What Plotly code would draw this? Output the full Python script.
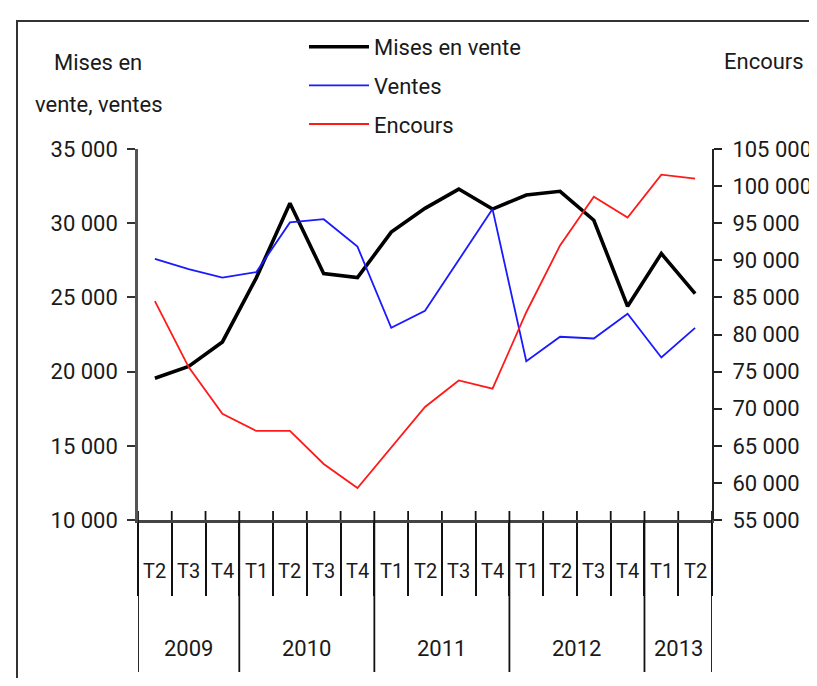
import plotly.graph_objects as go

# ---- data ----
years = ["2009"] * 3 + ["2010"] * 4 + ["2011"] * 4 + ["2012"] * 4 + ["2013"] * 2
quarters = ["T2", "T3", "T4", "T1", "T2", "T3", "T4", "T1", "T2", "T3", "T4",
            "T1", "T2", "T3", "T4", "T1", "T2"]
mises_en_vente = [19550, 20350, 22000, 26300, 31350, 26600, 26330, 29400, 31000,
                  32300, 30950, 31900, 32150, 30200, 24400, 27950, 25250]
ventes = [27600, 26900, 26330, 26700, 30050, 30270, 28420, 22950, 24100,
          27500, 30950, 20700, 22350, 22230, 23900, 20950, 22950]
encours = [84500, 75600, 69300, 67000, 67000, 62550, 59300, 64700, 70230,
           73800, 72700, 83000, 92000, 98560, 95750, 101550, 101000]
left_ticks = [10000, 15000, 20000, 25000, 30000, 35000]
right_ticks = [55000, 60000, 65000, 70000, 75000, 80000, 85000, 90000, 95000, 100000, 105000]


def fmt(v):
    return f"{v:,}".replace(",", " ")


cats = [f"{q} {y}" for q, y in zip(quarters, years)]

# ---- geometry (page pixels; the page body adds an 8px offset) ----
OFF = 8
W, H = 817 - OFF, 686 - 2 * OFF
L, R, T, B = 138 - OFF, 712 - OFF, 149 - OFF, 520 - OFF


def pxx(x):  # page x -> paper
    return (x - OFF - L) / (R - L)


def pxy(y):  # page y -> paper
    return (B - (y - OFF)) / (B - T)


FONT = "Roboto, 'Liberation Sans', sans-serif"
TXT = "#1a1a1a"
FS = 22

fig = go.Figure()
fig.add_trace(go.Scatter(x=cats, y=mises_en_vente, name="Mises en vente", mode="lines",
                         line=dict(color="#000000", width=3.6), legendgroup="a"))
fig.add_trace(go.Scatter(x=cats, y=ventes, name="Ventes", mode="lines",
                         line=dict(color="#1a1aff", width=1.8), legendgroup="b"))
fig.add_trace(go.Scatter(x=cats, y=encours, name="Encours", mode="lines", yaxis="y2",
                         line=dict(color="#ff1a1a", width=1.8), legendgroup="c"))

axis_common = dict(showgrid=False, zeroline=False, automargin=False,
                   tickfont=dict(family=FONT, size=22, color=TXT))

fig.update_layout(
    width=W, height=H,
    margin=dict(l=L, r=W - R, t=T, b=H - B, autoexpand=False),
    paper_bgcolor="white", plot_bgcolor="white",
    font=dict(family=FONT, size=FS, color=TXT),
    showlegend=True,
    legend=dict(x=pxx(296 + OFF), y=pxy(18 + OFF), xanchor="left", yanchor="top",
                bgcolor="rgba(0,0,0,0)", itemwidth=60, traceorder="grouped",
                tracegroupgap=7, font=dict(family=FONT, size=FS, color=TXT)),
    xaxis=dict(type="category", categoryarray=cats, categoryorder="array",
               range=[-0.5, len(cats) - 0.5], showgrid=False, zeroline=False,
               automargin=False, showline=True, linecolor="#444444", linewidth=2.5,
               ticks="outside", tickson="boundaries", ticklen=73, tickwidth=1.8,
               tickcolor="#111111", showticklabels=False),
    yaxis=dict(range=[left_ticks[0], left_ticks[-1]], tickvals=left_ticks,
               ticktext=[fmt(v) for v in left_ticks], showline=True,
               linecolor="#555555", linewidth=2.5, ticks="outside", ticklen=8,
               tickwidth=2, tickcolor="#333333", ticklabelstandoff=5, **axis_common),
    yaxis2=dict(range=[right_ticks[0], right_ticks[-1]], tickvals=right_ticks,
                ticktext=[fmt(v) for v in right_ticks], overlaying="y", side="right",
                anchor="x", showline=True, linecolor="#222222", linewidth=2,
                ticks="outside", ticklen=8, tickwidth=2, tickcolor="#222222",
                ticklabelstandoff=6, **axis_common),
    yaxis3=dict(range=[left_ticks[0], left_ticks[-1]], tickvals=left_ticks,
                overlaying="y", side="left", anchor="x", ticks="inside", ticklen=8,
                tickwidth=2, tickcolor="#333333", showticklabels=False, automargin=False,
                showline=False, showgrid=False, zeroline=False),
    yaxis4=dict(range=[right_ticks[0], right_ticks[-1]], tickvals=right_ticks,
                overlaying="y", side="right", anchor="x", ticks="inside", ticklen=8,
                tickwidth=2, tickcolor="#222222", showticklabels=False, automargin=False,
                showline=False, showgrid=False, zeroline=False),
)

shapes = []
# outer frame (runs off the right and bottom edges)
shapes.append(dict(type="rect", xref="paper", yref="paper", x0=pxx(17), x1=pxx(900),
                   y0=pxy(760), y1=pxy(21), line=dict(color="#333333", width=2),
                   fillcolor="rgba(0,0,0,0)", layer="below"))
# boundaries: short tick above the axis; year dividers run full height
for b in range(len(cats) + 1):
    is_year = b == 0 or b == len(cats) or quarters[b] == "T1"
    shapes.append(dict(type="line", xref="x", yref="paper", x0=b - 0.5, x1=b - 0.5,
                       y0=pxy(672 if is_year else 520), y1=pxy(511),
                       line=dict(color="#111111", width=1.8)))
fig.update_layout(shapes=shapes)

ann = []
for i, q in enumerate(quarters):
    ann.append(dict(x=i, y=pxy(571), xref="x", yref="paper", text=q, showarrow=False,
                    xanchor="center", yanchor="middle", font=dict(size=20)))
for yv in sorted(set(years)):
    idx = [i for i, y in enumerate(years) if y == yv]
    ann.append(dict(x=(idx[0] + idx[-1]) / 2, y=pxy(648), xref="x", yref="paper", text=yv,
                    showarrow=False, xanchor="center", yanchor="middle", font=dict(size=22)))
ann.append(dict(x=pxx(98), y=pxy(62), xref="paper", yref="paper", text="Mises en",
                showarrow=False, xanchor="center", yanchor="middle"))
ann.append(dict(x=pxx(99), y=pxy(104), xref="paper", yref="paper", text="vente, ventes",
                showarrow=False, xanchor="center", yanchor="middle"))
ann.append(dict(x=pxx(764), y=pxy(61), xref="paper", yref="paper", text="Encours",
                showarrow=False, xanchor="center", yanchor="middle"))
fig.update_layout(annotations=ann)

fig.write_html("out.html")
